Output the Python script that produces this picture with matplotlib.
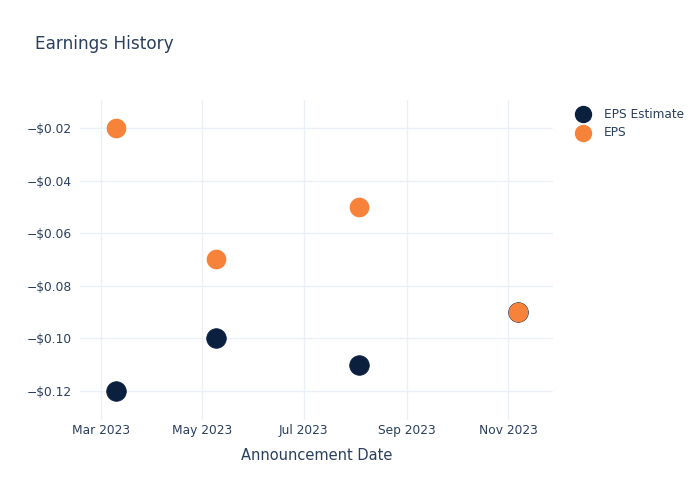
import matplotlib
matplotlib.use("Agg")
import matplotlib.pyplot as plt
import matplotlib.ticker as mticker
from matplotlib.lines import Line2D
import datetime as dt

dates = ["2023-03-10", "2023-05-09", "2023-08-03", "2023-11-07"]
eps_estimate = [-0.12, -0.10, -0.11, -0.09]
eps_actual = [-0.02, -0.07, -0.05, -0.09]
tick_dates = ["2023-03-01", "2023-05-01", "2023-07-01", "2023-09-01", "2023-11-01"]
tick_labels = ["Mar 2023", "May 2023", "Jul 2023", "Sep 2023", "Nov 2023"]
series_names = ["EPS Estimate", "EPS"]

TXT = "#2a3f5f"
GRID = "#ebf0f8"
NAVY = "#0b1f3f"
ORANGE = "#f7823a"

plt.rcParams['font.family'] = ['DejaVu Sans']

fig = plt.figure(figsize=(7, 5), dpi=100)
ax = fig.add_axes([80/700, 1-420/500, (553-80)/700, (420-100)/500])

x = [dt.datetime.strptime(d, "%Y-%m-%d") for d in dates]
ax.scatter(x, eps_estimate, s=200, color=NAVY, zorder=3,
           edgecolors=NAVY, linewidths=0.5)
ax.scatter(x, eps_actual, s=200, color=ORANGE, zorder=4, linewidths=0)

ax.set_xlim(dt.datetime(2023, 2, 16, 8), dt.datetime(2023, 11, 28))
ax.set_ylim(-0.131, -0.0094)
ax.set_xticks([dt.datetime.strptime(d, "%Y-%m-%d") for d in tick_dates])
ax.set_xticklabels(tick_labels)
ax.set_yticks([-0.12, -0.10, -0.08, -0.06, -0.04, -0.02])
ax.yaxis.set_major_formatter(mticker.FuncFormatter(lambda v, p: "\u2212$%.2f" % abs(v)))

for s in ax.spines.values():
    s.set_visible(False)
ax.grid(True, color=GRID, linewidth=1)
ax.set_axisbelow(True)
ax.tick_params(length=0, colors=TXT, labelsize=8.8)
ax.tick_params(axis="x", pad=3)
ax.tick_params(axis="y", pad=6)
ax.set_xlabel("Announcement Date", color=TXT, fontsize=10.5, labelpad=8)

fig.text(35/700, 1-44/500, "Earnings History", color=TXT, fontsize=12.2, va="center", ha="left")

# legend (manual placement)
colors = [NAVY, ORANGE]
ys = [114, 133]
for name, c, yy in zip(series_names, colors, ys):
    fig.add_artist(Line2D([583/700], [1-yy/500], marker="o", markersize=11.5,
                          color=c, linestyle="none", transform=fig.transFigure))
    fig.text(604/700, 1-yy/500, name, color=TXT, fontsize=8.7, va="center", ha="left")

fig.savefig("out.png", dpi=100)
